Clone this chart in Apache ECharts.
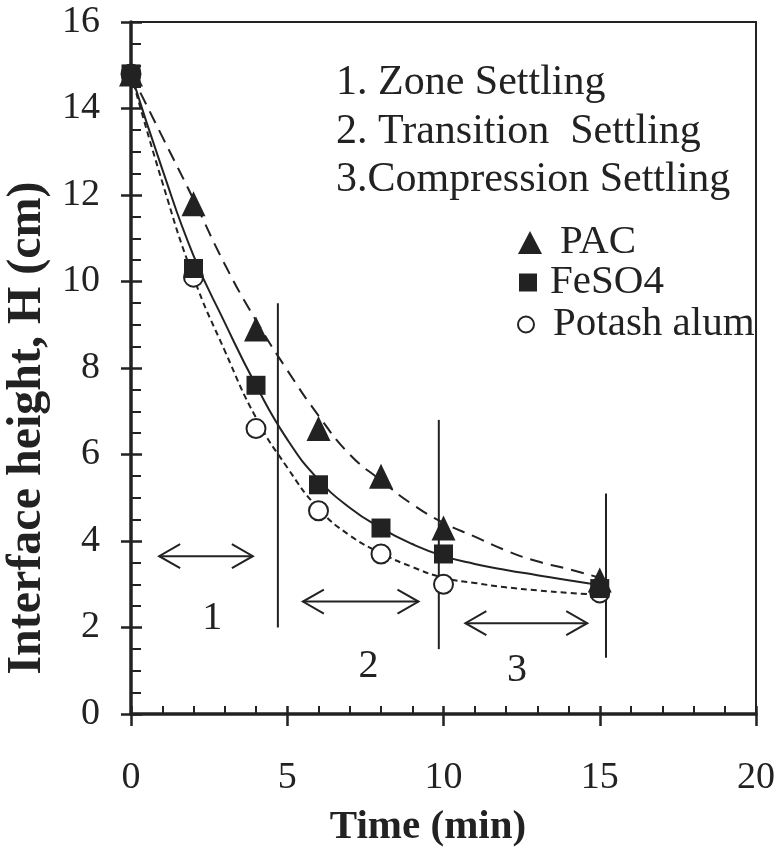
<!DOCTYPE html>
<html>
<head>
<meta charset="utf-8">
<title>Interface height vs time</title>
<script src="https://cdn.jsdelivr.net/npm/echarts@6/dist/echarts.min.js"></script>
<style>
  html, body { margin: 0; padding: 0; background: #fff; }
  #chart { width: 782px; height: 856px; }
</style>
</head>
<body>
<div id="chart"></div>
<script>
// Settling test: interface height (cm) against time (min) for three coagulants
const timeMin     = [0, 2, 4, 6, 8, 10, 15];
const pacHeight   = [14.8, 11.8, 8.9, 6.6, 5.5, 4.3, 3.1];
const feso4Height = [14.8, 10.3, 7.6, 5.3, 4.3, 3.7, 2.9];
const alumHeight  = [14.8, 10.1, 6.6, 4.7, 3.7, 3.0, 2.8];

// Fitted settling curves, read every minute
const trendTime  = [0, 1, 2, 3, 4, 5, 6, 7, 8, 9, 10, 11, 12, 13, 14, 15];
const pacTrend   = [14.8, 13.35, 11.9, 10.4, 9.1, 7.95, 6.9, 6.0, 5.4, 4.85, 4.42, 4.1, 3.78, 3.53, 3.35, 3.15];
const feso4Trend = [14.8, 12.6, 10.6, 9.05, 7.6, 6.35, 5.42, 4.77, 4.3, 3.93, 3.65, 3.47, 3.33, 3.21, 3.09, 2.98];
const alumTrend  = [14.8, 12.3, 10.1, 8.4, 6.85, 5.7, 4.75, 4.13, 3.72, 3.4, 3.15, 3.03, 2.93, 2.86, 2.8, 2.76];

// Axis tick labels
const xTickLabels = [0, 5, 10, 15, 20];
const yTickLabels = [0, 2, 4, 6, 8, 10, 12, 14, 16];

// Settling regimes
const regimeNotes = ['1. Zone Settling', '2. Transition  Settling', '3.Compression Settling'];
const regimeBoundaries = [[4.7, 2.0, 9.5], [9.85, 1.5, 6.8], [15.2, 1.3, 5.1]]; // [time, from H, to H]
const regimeArrows = [[0.9, 3.9, 3.65], [5.5, 9.2, 2.6], [10.7, 14.6, 2.1]];    // [from time, to time, H]
const regimeLabelText = ['1', '2', '3'];
const regimeLabelPos = [[2.6, 2.2], [7.6, 1.1], [12.35, 1.0]];                  // [time, H]

const INK = '#222';
const SERIF = '"Liberation Serif", "Times New Roman", serif';

const pairs = (xs, ys) => xs.map((t, i) => [t, ys[i]]);

const chart = echarts.init(document.getElementById('chart'), null, { renderer: 'canvas' });

const xCommon = {
  type: 'value', position: 'bottom',
  min: xTickLabels[0], max: xTickLabels[xTickLabels.length - 1],
  interval: xTickLabels[1] - xTickLabels[0],
  splitLine: { show: false }
};
const yCommon = {
  type: 'value', position: 'left',
  min: yTickLabels[0], max: yTickLabels[yTickLabels.length - 1],
  interval: yTickLabels[1] - yTickLabels[0],
  splitLine: { show: false }
};

const legendBase = {
  orient: 'vertical', padding: 0, itemGap: 0,
  textStyle: { fontFamily: SERIF, fontSize: 41, color: INK }
};

const trendLine = (name, xs, ys, dash) => ({
  name, type: 'line', data: pairs(xs, ys), z: 2,
  smooth: 0.5, symbol: 'none', silent: true,
  lineStyle: { color: INK, width: 2, type: dash }
});

chart.setOption({
  animation: false,
  backgroundColor: '#fff',
  grid: {
    left: 131, right: 26, top: 22, bottom: 142,
    show: true, borderColor: INK, borderWidth: 2, backgroundColor: 'transparent',
    containLabel: false, outerBoundsMode: 'none'
  },
  xAxis: [
    Object.assign({}, xCommon, {
      axisLine: { show: true, onZero: false, lineStyle: { color: INK, width: 3.5 } },
      axisTick: { show: true, inside: false, length: 12, lineStyle: { color: INK, width: 2.5 } },
      minorTick: { show: false },
      axisLabel: { fontFamily: SERIF, fontSize: 38, color: INK, margin: 45 }
    }),
    Object.assign({}, xCommon, {
      axisLine: { show: false, onZero: false },
      axisTick: { show: true, inside: true, length: 8, lineStyle: { color: INK, width: 2.5 } },
      minorTick: { show: true, splitNumber: 5, length: 8, lineStyle: { color: INK, width: 2 } },
      axisLabel: { show: false }
    })
  ],
  yAxis: [
    Object.assign({}, yCommon, {
      axisLine: { show: true, onZero: false, lineStyle: { color: INK, width: 3.5 } },
      axisTick: { show: true, inside: false, length: 10, lineStyle: { color: INK, width: 2.5 } },
      minorTick: { show: false },
      axisLabel: { fontFamily: SERIF, fontSize: 38, color: INK, margin: 31 }
    }),
    Object.assign({}, yCommon, {
      axisLine: { show: false, onZero: false },
      axisTick: { show: true, inside: true, length: 11, lineStyle: { color: INK, width: 2.5 } },
      minorTick: { show: true, splitNumber: 4, length: 10, lineStyle: { color: INK, width: 2 } },
      axisLabel: { show: false }
    })
  ],
  legend: [
    Object.assign({}, legendBase, {
      data: [{ name: 'PAC', icon: 'triangle', itemStyle: { color: INK, opacity: 1 } }],
      left: 518, top: 222, itemWidth: 24, itemHeight: 23,
      textStyle: Object.assign({}, legendBase.textStyle, { padding: [0, 0, 0, 13] })
    }),
    Object.assign({}, legendBase, {
      data: [{ name: 'FeSO4', icon: 'rect', itemStyle: { color: INK, opacity: 1 } }],
      left: 519, top: 262, itemWidth: 18, itemHeight: 18,
      textStyle: Object.assign({}, legendBase.textStyle, { padding: [0, 0, 0, 8] })
    }),
    Object.assign({}, legendBase, {
      data: [{ name: 'Potash alum', icon: 'circle', itemStyle: { color: '#fff', borderColor: INK, borderWidth: 2, opacity: 1 } }],
      left: 517, top: 304, itemWidth: 16, itemHeight: 16,
      textStyle: Object.assign({}, legendBase.textStyle, { padding: [0, 0, 0, 14] })
    })
  ],
  graphic: [
    {
      type: 'text', x: 336, y: 59, silent: true,
      style: {
        text: regimeNotes.join('\n'), font: '42px ' + SERIF, lineHeight: 48.5,
        fill: INK, align: 'left', verticalAlign: 'top'
      }
    },
    {
      type: 'text', x: 428, y: 827, silent: true,
      style: {
        text: 'Time (min)', font: 'bold 41px ' + SERIF,
        fill: INK, align: 'center', verticalAlign: 'middle'
      }
    },
    {
      type: 'text', x: 28, y: 428, rotation: Math.PI / 2, silent: true,
      style: {
        text: 'Interface height, H (cm)', font: 'bold 48px ' + SERIF,
        fill: INK, align: 'center', verticalAlign: 'middle'
      }
    }
  ],
  series: [
    trendLine('Potash alum', trendTime, alumTrend, [6, 4]),
    trendLine('PAC', trendTime, pacTrend, [13, 8]),
    trendLine('FeSO4', trendTime, feso4Trend, 'solid'),
    {
      name: 'Potash alum', type: 'scatter', data: pairs(timeMin, alumHeight), z: 3,
      symbol: 'emptyCircle', symbolSize: 19,
      itemStyle: { color: INK, borderColor: INK, borderWidth: 2, opacity: 1 }
    },
    {
      name: 'PAC', type: 'scatter', data: pairs(timeMin, pacHeight), z: 4,
      symbol: 'triangle', symbolSize: [24, 25],
      itemStyle: { color: INK, opacity: 1 }
    },
    {
      name: 'FeSO4', type: 'scatter', data: pairs(timeMin, feso4Height), z: 5,
      symbol: 'rect', symbolSize: 19,
      itemStyle: { color: INK, opacity: 1 }
    },
    {
      // regime boundaries
      type: 'custom', coordinateSystem: 'cartesian2d', silent: true, z: 1,
      data: regimeBoundaries,
      renderItem: (params, api) => {
        const a = api.coord([api.value(0), api.value(1)]);
        const b = api.coord([api.value(0), api.value(2)]);
        return { type: 'line', shape: { x1: a[0], y1: a[1], x2: b[0], y2: b[1] },
                 style: { stroke: INK, lineWidth: 2 } };
      }
    },
    {
      // double-headed arrows spanning each regime
      type: 'custom', coordinateSystem: 'cartesian2d', silent: true, z: 1,
      data: regimeArrows,
      renderItem: (params, api) => {
        const a = api.coord([api.value(0), api.value(2)]);
        const b = api.coord([api.value(1), api.value(2)]);
        const hl = 21, hw = 12;
        const st = { stroke: INK, lineWidth: 2, fill: null };
        return {
          type: 'group',
          children: [
            { type: 'line', shape: { x1: a[0], y1: a[1], x2: b[0], y2: b[1] }, style: st },
            { type: 'polyline', shape: { points: [[a[0] + hl, a[1] - hw], a, [a[0] + hl, a[1] + hw]] }, style: st },
            { type: 'polyline', shape: { points: [[b[0] - hl, b[1] - hw], b, [b[0] - hl, b[1] + hw]] }, style: st }
          ]
        };
      }
    },
    {
      // regime numbers
      type: 'custom', coordinateSystem: 'cartesian2d', silent: true, z: 1,
      data: regimeLabelPos,
      renderItem: (params, api) => {
        const p = api.coord([api.value(0), api.value(1)]);
        return { type: 'text', x: p[0], y: p[1],
                 style: { text: regimeLabelText[params.dataIndex], font: '40px ' + SERIF,
                          fill: INK, align: 'center', verticalAlign: 'middle' } };
      }
    }
  ]
});
</script>
</body>
</html>
